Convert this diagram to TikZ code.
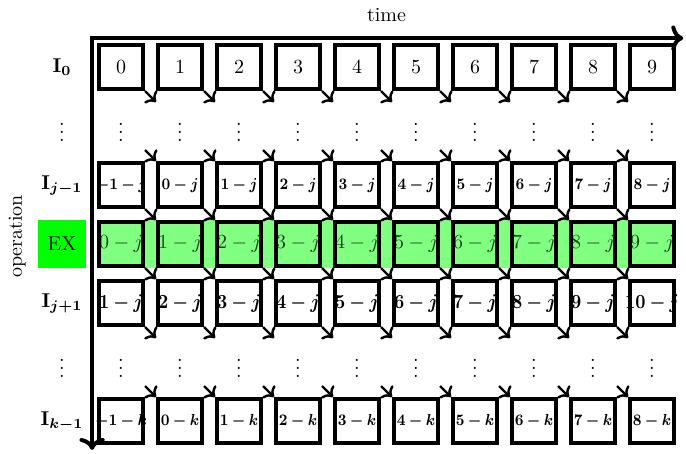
\documentclass[tikz,border=0pt]{standalone}
\usepackage{bm}
\usetikzlibrary{arrows.meta}
\pgfdeclarelayer{bg}
\pgfsetlayers{bg,main}
\definecolor{band}{rgb}{0.5,1,0.5}
\definecolor{extext}{rgb}{0.12,0.25,0.12}
\newcommand{\narrow}[1]{\scalebox{0.89}[1]{#1}}
\begin{document}
\begin{tikzpicture}[x=1.037cm,y=1.037cm,
  cell/.style={draw=black, line width=2pt, minimum size=0.773cm, inner sep=0pt},
  excell/.style={cell},
  ghost/.style={line width=2pt, minimum size=0.773cm, inner sep=0pt},
  txt/.style={inner sep=0pt},
  conn/.style={->, line width=1.2pt},
  axisline/.style={<->, line width=2pt},
  rowlabel/.style={inner sep=1pt}]
\useasboundingbox (-2.051,-6.542) rectangle (9.576,1.136);

% axes
\coordinate (corner) at (-0.49,0.49);
\coordinate (hend) at (9.53,0.49);
\coordinate (vend) at (-0.49,-6.49);
\draw[axisline] (vend) -- (corner) -- (hend);
\node (timelab) at (4.5,0.88) {time};
\node[rotate=90] (oper) at (-1.76,-2.87) {operation};

% row labels
\node[rowlabel] (lab0) at (-1,0) {$\bm{\mathrm{I}_0}$};
\node[rowlabel] (lab1) at (-1,-1) {$\vdots$};
\node[rowlabel] (lab2) at (-1,-2) {$\bm{\mathrm{I}_{j-1}}$};
\node[fill=green, minimum size=0.844cm, inner sep=0pt] (ex) at (-1,-3) {EX};
\node[rowlabel] (lab4) at (-1,-4) {$\bm{\mathrm{I}_{j+1}}$};
\node[rowlabel] (lab5) at (-1,-5) {$\vdots$};
\node[rowlabel] (lab6) at (-1,-6) {$\bm{\mathrm{I}_{k-1}}$};

% cells
\foreach \c in {0,...,9} {
  \pgfmathtruncatemacro{\cmin}{\c-1}
  \pgfmathtruncatemacro{\cplus}{\c+1}
  % row 0
  \node[txt] (t0-\c) at (\c,0) {\c};
  \node[cell] (b0-\c) at (\c,0) {};
  % row 1 (dots)
  \node[ghost] (b1-\c) at (\c,-1) {$\vdots$};
  % row 2
  \node[txt] (t2-\c) at (\c,-2) {\footnotesize\narrow{$\bm{\cmin-j}$}};
  \node[cell] (b2-\c) at (\c,-2) {};
  % row 3 (EX)
  \node[txt, text=extext] (t3-\c) at (\c,-3) {$\c-j$};
  \node[excell] (b3-\c) at (\c,-3) {};
  % row 4
  \node[txt] (t4-\c) at (\c,-4) {\narrow{$\bm{\cplus-j}$}};
  \node[cell] (b4-\c) at (\c,-4) {};
  % row 5 (dots)
  \node[ghost] (b5-\c) at (\c,-5) {$\vdots$};
  % row 6
  \node[txt] (t6-\c) at (\c,-6) {\footnotesize\narrow{$\bm{\cmin-k}$}};
  \node[cell] (b6-\c) at (\c,-6) {};
}

% green band behind EX row
\begin{pgfonlayer}{bg}
  \fill[band] (b3-0.north west) rectangle (b3-9.south east);
\end{pgfonlayer}

% diagonal arrows
\foreach \r in {0,...,5} {
  \pgfmathtruncatemacro{\rn}{\r+1}
  \foreach \c in {0,...,8} {
    \pgfmathtruncatemacro{\cn}{\c+1}
    \draw[conn] (b\r-\c.south east) -- (b\rn-\cn.north west);
  }
}
\end{tikzpicture}
\end{document}
